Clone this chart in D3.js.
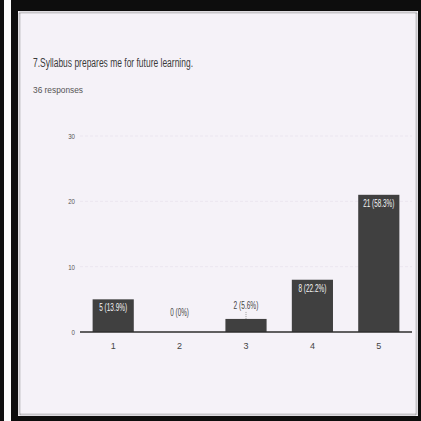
<!DOCTYPE html>
<html>
<head>
<meta charset="utf-8">
<script src="https://cdn.jsdelivr.net/npm/d3@7"></script>
<style>
  html, body { margin: 0; padding: 0; background: #fff; }
  svg { display: block; }
  text { font-family: "Liberation Sans", "DejaVu Sans", sans-serif; }
</style>
</head>
<body>
<svg id="chart" width="421" height="421"></svg>
<script>
const title = "7.Syllabus prepares me for future learning.";
const subtitle = "36 responses";
const categories = ["1", "2", "3", "4", "5"];
const counts = [5, 0, 2, 8, 21];
const percentLabels = ["13.9%", "0%", "5.6%", "22.2%", "58.3%"];
const yTicks = [0, 10, 20, 30];

const svg = d3.select("#chart");

// scanned frame
svg.append("rect").attr("x", 0).attr("y", 0).attr("width", 421).attr("height", 421).attr("fill", "#0d0d0d");
svg.append("rect").attr("x", 4).attr("y", 0).attr("width", 7).attr("height", 421).attr("fill", "#fbfbfb");
svg.append("rect").attr("x", 18).attr("y", 11).attr("width", 400).attr("height", 405).attr("fill", "#f5f2f8");
svg.append("rect").attr("x", 19.5).attr("y", 12.5).attr("width", 397).attr("height", 402)
  .attr("fill", "none").attr("stroke", "#9a9a9a").attr("stroke-width", 2).attr("stroke-dasharray", "1,1");

// title texts
svg.append("text").attr("x", 33).attr("y", 67).attr("font-size", 12).attr("fill", "#3a3a3a")
  .attr("textLength", 160).attr("lengthAdjust", "spacingAndGlyphs").text(title);
svg.append("text").attr("x", 33).attr("y", 93).attr("font-size", 9).attr("fill", "#555")
  .attr("textLength", 50).attr("lengthAdjust", "spacingAndGlyphs").text(subtitle);

const x = d3.scaleBand().domain(categories).range([80, 412]).paddingInner(0.38).paddingOuter(0.19);
const y = d3.scaleLinear().domain([0, 30]).range([332, 136]);

// faint gridlines
svg.append("g").selectAll("line").data(yTicks.filter(d => d > 0)).join("line")
  .attr("x1", 80).attr("x2", 412).attr("y1", d => y(d)).attr("y2", d => y(d))
  .attr("stroke", "#ebe6f0").attr("stroke-width", 1).attr("stroke-dasharray", "3,2");

// y axis labels
const yAxis = d3.axisLeft(y).tickValues(yTicks).tickSize(0).tickPadding(0).tickFormat(d3.format("d"));
const yG = svg.append("g").attr("transform", "translate(75,0)").call(yAxis);
yG.select(".domain").remove();
yG.selectAll("text").attr("font-size", 8).attr("fill", "#555")
  .attr("textLength", function() { return this.textContent.length * 3.4; })
  .attr("lengthAdjust", "spacingAndGlyphs");

// bars
svg.append("g").selectAll("rect").data(counts).join("rect")
  .attr("x", (d, i) => x(categories[i]))
  .attr("width", x.bandwidth())
  .attr("y", d => y(d))
  .attr("height", d => y(0) - y(d))
  .attr("fill", "#404040");

// x axis
const xAxis = d3.axisBottom(x).tickSize(0).tickPadding(11);
const xG = svg.append("g").attr("transform", `translate(0,${y(0)})`).call(xAxis);
xG.select(".domain").attr("stroke", "#2e2e2e").attr("stroke-width", 1.6).attr("d", "M80,0H412");
xG.selectAll("text").attr("font-size", 9).attr("fill", "#444");

// bar labels
const lab = svg.append("g");
counts.forEach((d, i) => {
  const cx = x(categories[i]) + x.bandwidth() / 2;
  const top = y(d);
  const txt = `${d} (${percentLabels[i]})`;
  const inside = (y(0) - top) > 20;
  const t = lab.append("text").attr("x", cx).attr("text-anchor", "middle")
    .attr("font-size", 10).attr("textLength", txt.length * 3.1).attr("lengthAdjust", "spacingAndGlyphs").text(txt);
  if (inside) {
    t.attr("y", top + 12).attr("fill", "#f4f4f4");
  } else {
    const ly = Math.min(top - 10, y(0) - 16);
    t.attr("y", ly).attr("fill", "#444");
    if (top < y(0)) {
      lab.append("line").attr("x1", cx).attr("x2", cx).attr("y1", ly + 3).attr("y2", top)
        .attr("stroke", "#888").attr("stroke-width", 0.8).attr("stroke-dasharray", "1,1");
    }
  }
});
</script>
</body>
</html>
